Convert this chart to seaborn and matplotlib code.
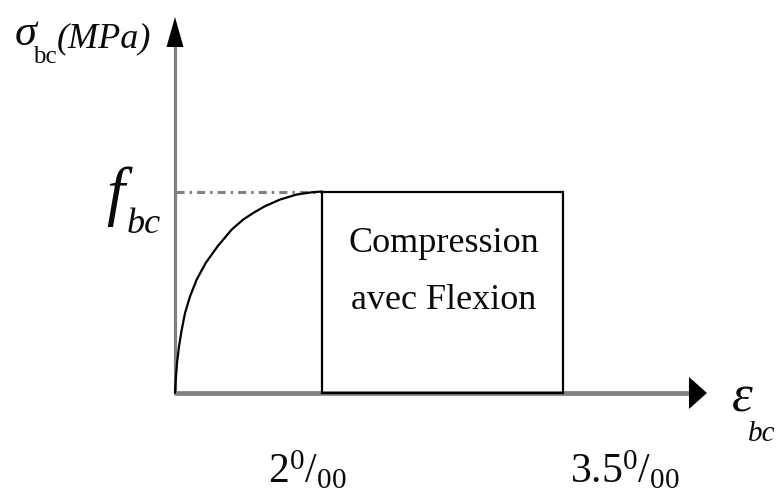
import numpy as np
import matplotlib
matplotlib.use("Agg")
import matplotlib.pyplot as plt
import seaborn as sns
from matplotlib.patches import Rectangle, Polygon
from matplotlib.transforms import IdentityTransform

# Rising branch of the concrete law: strain (per mille) and stress / f_bc
curve_strain = [0.0, 0.0095, 0.027, 0.054, 0.091, 0.136, 0.204, 0.295,
                0.417, 0.580, 0.771, 0.929, 1.066, 1.224, 1.429, 1.655,
                1.859, 2.0]
curve_stress = [0.0, 0.0645, 0.147, 0.230, 0.313, 0.396, 0.479, 0.563,
                0.645, 0.728, 0.811, 0.861, 0.894, 0.927, 0.960, 0.985,
                0.996, 1.0]

# Characteristic strains on the horizontal axis
strain_marks = [2.0, 3.5]
strain_labels = [r"$2^{0}/_{00}$", r"$3.5^{0}/_{00}$"]
stress_level = 1.0  # f_bc
block_lines = ["Compression", "avec Flexion"]

sns.set_theme(style="white")
plt.rcParams["font.family"] = ["Liberation Serif", "DejaVu Serif"]
plt.rcParams["mathtext.fontset"] = "custom"
plt.rcParams["mathtext.rm"] = "Liberation Serif"
plt.rcParams["mathtext.it"] = "Liberation Serif:italic"
plt.rcParams["lines.scale_dashes"] = False

# the plateau (2 to 3.5 per mille) is drawn wider than the rising branch
STRETCH = 2.186


def fwd(e):
    e = np.asarray(e, float)
    return np.where(e <= 2.0, e, 2.0 + (e - 2.0) * STRETCH)


def inv(t):
    t = np.asarray(t, float)
    return np.where(t <= 2.0, t, 2.0 + (t - 2.0) / STRETCH)


W, H = 777, 491
fig = plt.figure(figsize=(W / 100, H / 100), dpi=100)
ax = fig.add_axes([0, 0, 1, 1])
ax.set_xscale("function", functions=(fwd, inv))
PX_X = 73.5    # pixels per strain unit on the rising branch
PX_Y = 201.5   # pixels per f_bc
X0, Y0 = 175, 98
ax.set_xlim(float(inv(-X0 / PX_X)), float(inv((W - X0) / PX_X)))
ax.set_ylim(-Y0 / PX_Y, (H - Y0) / PX_Y)
ax.axis("off")

axis_grey = "#808080"
x_end = 4.396   # tip of the strain axis
y_end = 1.866   # tip of the stress axis

to_data = ax.transData.inverted()
tip_x = ax.transData.transform((x_end, 0.0))
tip_y = ax.transData.transform((0.0, y_end))

# axis shafts
x_base = to_data.transform((tip_x[0] - 16, tip_x[1]))[0]
y_base = to_data.transform((tip_y[0], tip_y[1] - 28))[1]
ax.plot([-0.02, x_base], [0, 0], color=axis_grey, lw=3.4,
        solid_capstyle="butt", zorder=2)
ax.plot([0, 0], [0, y_base], color=axis_grey, lw=2.3,
        solid_capstyle="butt", zorder=2)

# arrow heads
ax.add_patch(Polygon([tip_x, (tip_x[0] - 18, tip_x[1] + 16),
                      (tip_x[0] - 18, tip_x[1] - 16)],
                     closed=True, transform=IdentityTransform(),
                     fc="black", ec="none", zorder=4))
ax.add_patch(Polygon([tip_y, (tip_y[0] - 8.5, tip_y[1] - 30),
                      (tip_y[0] + 8.5, tip_y[1] - 30)],
                     closed=True, transform=IdentityTransform(),
                     fc="black", ec="none", zorder=4))

# f_bc level line
ax.plot([0.01, strain_marks[0]], [stress_level, stress_level],
        color=axis_grey, lw=2.2, dashes=[5.8, 3.6, 1.8, 3.6], zorder=2)

# rising branch
sns.lineplot(x=curve_strain, y=curve_stress, sort=False, estimator=None,
             color="black", linewidth=1.6, ax=ax, zorder=3)

# plateau block
ax.add_patch(Rectangle((strain_marks[0], 0),
                       strain_marks[1] - strain_marks[0], stress_level,
                       fill=False, ec="black", lw=1.6, zorder=3))

txt = "#0a0a0a"
mid = (strain_marks[0] + strain_marks[1]) / 2
ax.annotate(block_lines[0], xy=(mid, stress_level / 2), xytext=(1, 40),
            textcoords="offset pixels", ha="center", va="baseline",
            fontsize=26, color=txt)
ax.annotate(block_lines[1], xy=(mid, stress_level / 2), xytext=(1, -17),
            textcoords="offset pixels", ha="center", va="baseline",
            fontsize=26, color=txt)

# strain tick labels
for s, lab, dx in zip(strain_marks, strain_labels, [-15, 62]):
    ax.annotate(lab, xy=(s, 0), xytext=(dx, -90), textcoords="offset pixels",
                ha="center", va="baseline", fontsize=30, color=txt)

# f_bc label
ax.annotate("f", xy=(0, stress_level), xytext=(-60, -21),
            textcoords="offset pixels", ha="center", va="baseline",
            fontsize=47, style="italic", color=txt)
ax.annotate("bc", xy=(0, stress_level), xytext=(-48, -41),
            textcoords="offset pixels", ha="left", va="baseline",
            fontsize=26, style="italic", color=txt)

# strain axis title
ax.annotate("\u03b5", xy=(x_end, 0), xytext=(35, -19),
            textcoords="offset pixels", ha="center", va="baseline",
            fontsize=38, style="italic", color=txt)
ax.annotate("bc", xy=(x_end, 0), xytext=(41, -48),
            textcoords="offset pixels", ha="left", va="baseline",
            fontsize=21, style="italic", color=txt)

# stress axis title
ax.annotate("\u03c3", xy=(0, y_end), xytext=(-149, -28),
            textcoords="offset pixels", ha="center", va="baseline",
            fontsize=32, style="italic", color=txt)
ax.annotate("bc", xy=(0, y_end), xytext=(-142, -46),
            textcoords="offset pixels", ha="left", va="baseline",
            fontsize=18, color=txt)
ax.annotate("(MPa)", xy=(0, y_end), xytext=(-118, -30),
            textcoords="offset pixels", ha="left", va="baseline",
            fontsize=26, style="italic", color=txt)

fig.savefig("out.png", dpi=100)
